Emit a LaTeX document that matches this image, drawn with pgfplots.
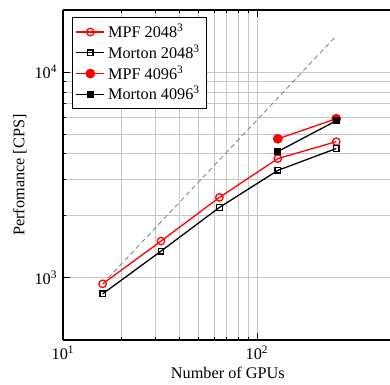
\documentclass[border=0pt]{standalone}
\usepackage{fontspec}
\setmainfont{Liberation Serif}
\usepackage{pgfplots}
\pgfplotsset{compat=1.18}
\begin{document}
\begin{tikzpicture}
\begin{loglogaxis}[
  name=ax,
  scale only axis,
  width=202.8pt, height=203pt,
  xmin=10, xmax=500, ymin=500, ymax=20000,
  axis x line*=box, axis y line*=left,
  axis line style={line width=1.1pt},
  xtick={10,100}, xticklabels={10\textsuperscript{1},10\textsuperscript{2}},
  ytick={1000,10000}, yticklabels={10\textsuperscript{3},10\textsuperscript{4}},
  tick align=inside,
  major tick length=4pt, minor tick length=2pt,
  tick style={black, line width=0.6pt},
  grid=both,
  major grid style={gray!45, line width=0.6pt},
  minor grid style={gray!45, line width=0.6pt},
  xlabel={Number of GPUs},
  ylabel={Perfomance [CPS]},
  xlabel style={yshift=2pt},
  ylabel style={yshift=-2pt},
  legend style={at={(0.027,0.979)}, anchor=north west, draw=black, line width=0.8pt, font=\normalsize, fill=white, inner sep=2pt, row sep=-1pt},
  legend cell align=left,
]
\addplot[red, line width=0.8pt, mark=o, mark size=2.3pt, mark options={solid, fill=white, line width=0.8pt}] coordinates {(16,936) (32,1510) (64,2460) (128,3800) (256,4590)};
\addlegendentry{MPF 2048\textsuperscript{3}}
\addplot[black, line width=0.8pt, mark=square, mark size=1.7pt, mark options={solid, fill=white, line width=0.8pt}] coordinates {(16,837) (32,1350) (64,2200) (128,3330) (256,4250)};
\addlegendentry{Morton 2048\textsuperscript{3}}
\addplot[red, line width=0.8pt, mark=*, mark size=2.6pt, mark options={solid, fill=red}] coordinates {(128,4740) (256,5930)};
\addlegendentry{MPF 4096\textsuperscript{3}}
\addplot[black, line width=0.8pt, mark=square*, mark size=1.8pt, mark options={solid, fill=black}] coordinates {(128,4110) (256,5800)};
\addlegendentry{Morton 4096\textsuperscript{3}}
\addplot[gray, densely dashed, line width=0.5pt, forget plot] coordinates {(16,936) (256,14976)};
\end{loglogaxis}
\pgfresetboundingbox
\path ([xshift=-38.8pt, yshift=-27.7pt]ax.south west) rectangle ([xshift=-1.6pt, yshift=6.2pt]ax.north east);
\end{tikzpicture}
\end{document}
